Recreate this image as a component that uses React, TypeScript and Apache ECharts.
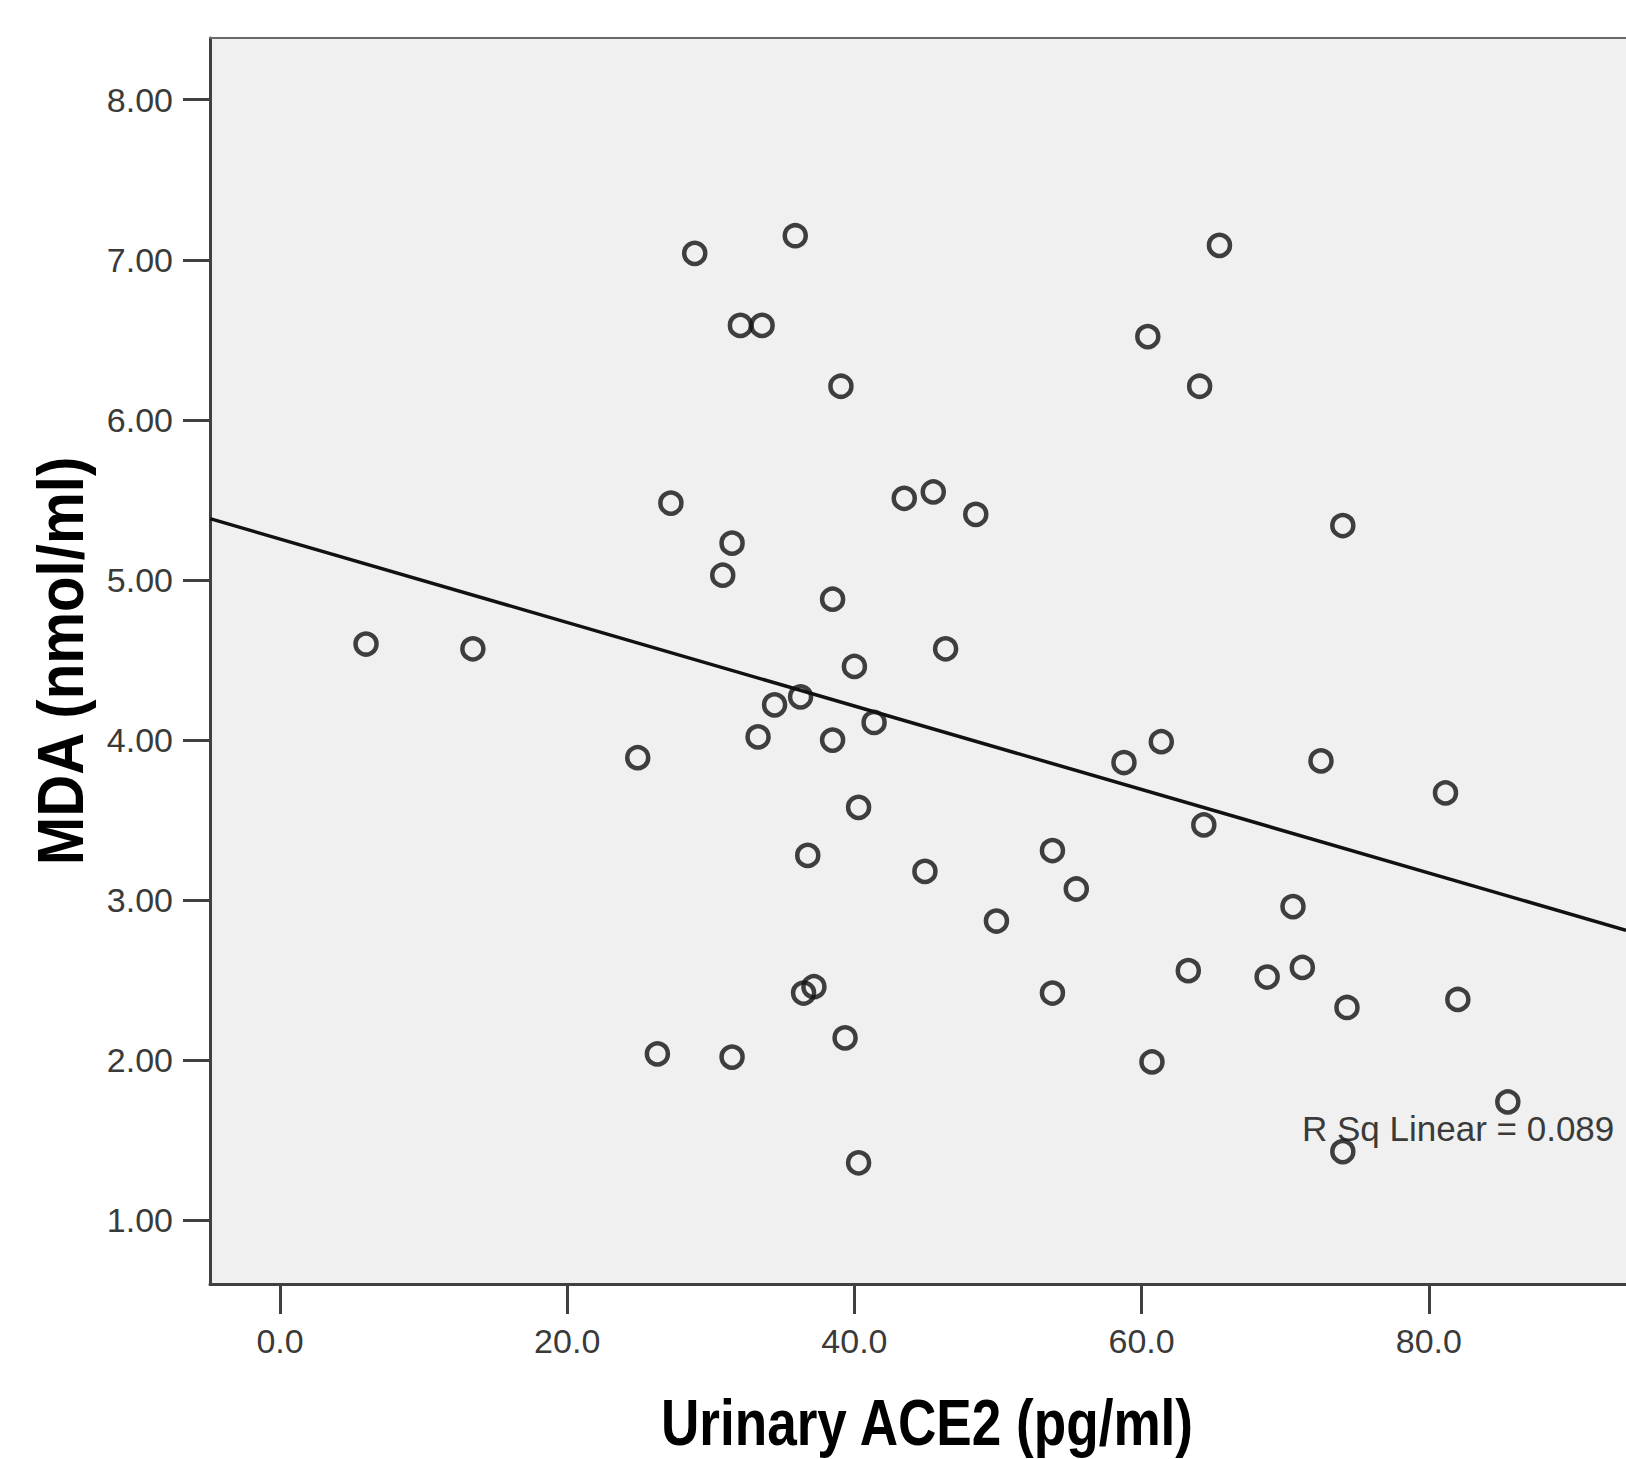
import React, { useEffect, useRef } from "react";
import * as echarts from "echarts";

// Urinary ACE2 (pg/ml)
const ace2 = [
  5.99, 13.43, 24.91, 26.28, 27.22, 28.88, 30.83, 31.48, 31.48, 32.06,
  33.57, 33.29, 34.44, 35.88, 36.25, 36.75, 36.46, 37.18, 38.48, 38.48,
  39.06, 39.35, 40.0, 40.29, 40.29, 41.37, 43.47, 44.91, 45.49, 46.35,
  48.45, 49.89, 53.79, 53.79, 55.45, 58.77, 60.43, 60.72, 61.37, 63.25,
  64.04, 64.33, 65.42, 68.74, 70.54, 71.19, 72.49, 74.01, 74.3, 74.01,
  81.16, 82.02, 85.5,
];
// MDA (nmol/ml)
const mda = [
  4.6, 4.57, 3.89, 2.04, 5.48, 7.04, 5.03, 5.23, 2.02, 6.59,
  6.59, 4.02, 4.22, 7.15, 4.27, 3.28, 2.42, 2.46, 4.88, 4.0,
  6.21, 2.14, 4.46, 3.58, 1.36, 4.11, 5.51, 3.18, 5.55, 4.57,
  5.41, 2.87, 3.31, 2.42, 3.07, 3.86, 6.52, 1.99, 3.99, 2.56,
  6.21, 3.47, 7.09, 2.52, 2.96, 2.58, 3.87, 5.34, 2.33, 1.43,
  3.67, 2.38, 1.74,
];
// Fit line endpoints (R Sq Linear = 0.089)
const fitX = [-4.875, 93.73];
const fitY = [5.383, 2.812];

const xTicks = [0, 20, 40, 60, 80];
const yTicks = [1, 2, 3, 4, 5, 6, 7, 8];
const xTitle = "Urinary ACE2 (pg/ml)";
const yTitle = "MDA (nmol/ml)";
const rsqLabel = "R Sq Linear = 0.089";

const X_MIN = -4.875;
const X_MAX = 93.73;
const Y_MIN = 0.603;
const Y_MAX = 8.385;

export default function App() {
  const ref = useRef<HTMLDivElement>(null);
  useEffect(() => {
    if (!ref.current) return;
    const chart = echarts.init(ref.current, null, { renderer: "svg" });
    const tickFont = "'Liberation Sans', Arial, sans-serif";
    const titleFont = "'Liberation Sans', Arial, sans-serif";
    chart.setOption({
      animation: false,
      backgroundColor: "#ffffff",
      grid: {
        left: 210,
        top: 38,
        right: 0,
        bottom: 175,
        show: true,
        backgroundColor: "#f0f0f0",
        borderWidth: 0,
      },
      xAxis: [
        {
          type: "value",
          min: X_MIN,
          max: X_MAX,
          position: "bottom",
          splitLine: { show: false },
          axisLine: { show: true, onZero: false, lineStyle: { color: "#404040", width: 3 } },
          axisTick: {
            show: true,
            customValues: xTicks,
            length: 30,
            lineStyle: { color: "#404040", width: 3 },
          },
          axisLabel: {
            customValues: xTicks,
            formatter: (v: number) => v.toFixed(1),
            fontFamily: tickFont,
            fontSize: 34,
            color: "#3a3a3a",
            margin: 40,
          },
        },
        {
          type: "value",
          min: X_MIN,
          max: X_MAX,
          position: "top",
          splitLine: { show: false },
          axisLine: { show: true, onZero: false, lineStyle: { color: "#6a6a6a", width: 2 } },
          axisTick: { show: false },
          axisLabel: { show: false },
        },
      ],
      yAxis: {
        type: "value",
        min: Y_MIN,
        max: Y_MAX,
        position: "left",
        splitLine: { show: false },
        axisLine: { show: true, onZero: false, lineStyle: { color: "#404040", width: 3 } },
        axisTick: {
          show: true,
          customValues: yTicks,
          length: 27,
          lineStyle: { color: "#404040", width: 3 },
        },
        axisLabel: {
          customValues: yTicks,
          formatter: (v: number) => v.toFixed(2),
          fontFamily: tickFont,
          fontSize: 34,
          color: "#3a3a3a",
          margin: 37,
        },
      },
      series: [
        {
          type: "line",
          xAxisIndex: 0,
          data: fitX.map((x, i) => [x, fitY[i]]),
          showSymbol: false,
          symbol: "none",
          lineStyle: { color: "#111111", width: 3.5 },
          z: 2,
        },
        {
          type: "scatter",
          xAxisIndex: 0,
          data: ace2.map((x, i) => [x, mda[i]]),
          symbol: "circle",
          symbolSize: 21,
          itemStyle: {
            color: "rgba(0,0,0,0)",
            borderColor: "#111111",
            borderWidth: 4.5,
          },
          z: 3,
        },
      ],
      graphic: [
        {
          type: "text",
          x: 927,
          y: 1423,
          scaleX: 0.83,
          style: {
            text: xTitle,
            font: `bold 64px ${titleFont}`,
            fill: "#000000",
            align: "center",
            verticalAlign: "middle",
          },
        },
        {
          type: "text",
          x: 61,
          y: 661,
          rotation: Math.PI / 2,
          scaleX: 0.91,
          style: {
            text: yTitle,
            font: `bold 64px ${titleFont}`,
            fill: "#000000",
            align: "center",
            verticalAlign: "middle",
          },
        },
        {
          type: "text",
          x: 1302,
          y: 1128,
          style: {
            text: rsqLabel,
            font: `35px ${tickFont}`,
            fill: "#3a3a3a",
            align: "left",
            verticalAlign: "middle",
          },
        },
      ],
    });
    return () => chart.dispose();
  }, []);
  return (
    <div
      ref={ref}
      style={{ position: "absolute", left: 0, top: 0, width: 1626, height: 1459 }}
    />
  );
}
